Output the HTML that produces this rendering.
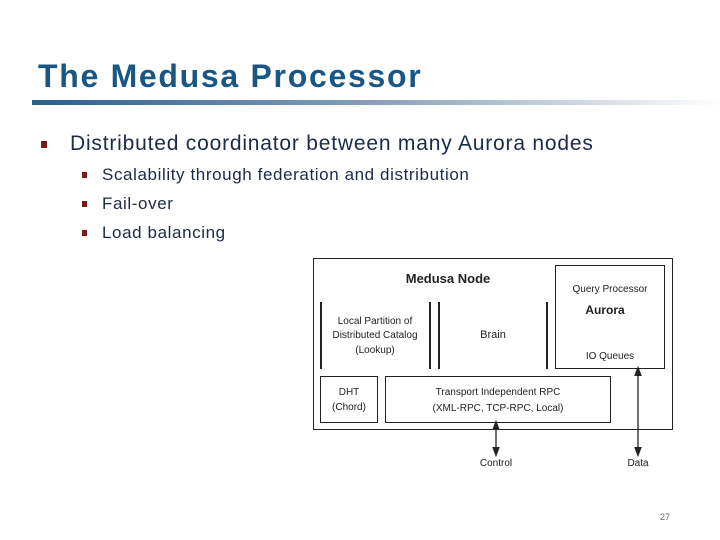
<!DOCTYPE html>
<html><head><style>
body{margin:0;width:720px;height:540px;background:#fff;position:relative;overflow:hidden;font-family:"Liberation Sans",sans-serif}
.t{position:absolute;white-space:nowrap}
.b{position:absolute;background:#7a1a1a}
.box{position:absolute;border:1.5px solid #222;box-sizing:border-box}
.vl{position:absolute;width:1.5px;background:#222}
.d{position:absolute;font-size:10px;color:#222;text-align:center;white-space:nowrap}
</style></head><body>
<div class="t" style="left:38px;top:58px;font-size:32px;font-weight:bold;color:#1a5684;letter-spacing:1.7px">The Medusa Processor</div>
<div style="position:absolute;left:32px;top:100px;width:690px;height:5px;background:linear-gradient(to right,#2a5f8e,#8aa0b8 50%,#fff)"></div>
<div class="b" style="left:41px;top:141px;width:6px;height:7px"></div>
<div class="t" style="left:70px;top:132px;font-size:21px;color:#1a2a4a;letter-spacing:0.8px">Distributed coordinator between many Aurora nodes</div>
<div class="b" style="left:82px;top:172px;width:5px;height:6px"></div>
<div class="t" style="left:102px;top:165px;font-size:17px;color:#1a2a4a;letter-spacing:0.6px">Scalability through federation and distribution</div>
<div class="b" style="left:82px;top:201px;width:5px;height:6px"></div>
<div class="t" style="left:102px;top:194px;font-size:17px;color:#1a2a4a;letter-spacing:0.6px">Fail-over</div>
<div class="b" style="left:82px;top:230px;width:5px;height:6px"></div>
<div class="t" style="left:102px;top:223px;font-size:17px;color:#1a2a4a;letter-spacing:0.6px">Load balancing</div>

<div class="box" style="left:313px;top:258px;width:360px;height:172px"></div>
<div class="box" style="left:555px;top:265px;width:110px;height:104px"></div>
<div class="vl" style="left:320px;top:302px;height:67px"></div>
<div class="vl" style="left:429px;top:302px;height:67px"></div>
<div class="vl" style="left:438px;top:302px;height:67px"></div>
<div class="vl" style="left:546px;top:302px;height:67px"></div>
<div class="box" style="left:320px;top:376px;width:58px;height:47px"></div>
<div class="box" style="left:385px;top:376px;width:226px;height:47px"></div>
<div class="d" style="left:313px;width:270px;top:271px;font-size:13px;font-weight:bold">Medusa Node</div>
<div class="d" style="left:555px;width:110px;top:284px">Query Processor</div>
<div class="d" style="left:555px;width:100px;top:303px;font-size:12px;font-weight:bold">Aurora</div>
<div class="d" style="left:555px;width:110px;top:351px">IO Queues</div>
<div class="d" style="left:322px;width:106px;top:315px;line-height:14px">Local Partition of<br>Distributed Catalog</div>
<div class="d" style="left:322px;width:106px;top:345px">(Lookup)</div>
<div class="d" style="left:440px;width:106px;top:329px;font-size:11px">Brain</div>
<div class="d" style="left:320px;width:58px;top:385px;line-height:15px">DHT<br>(Chord)</div>
<div class="d" style="left:385px;width:226px;top:385px;line-height:16px">Transport Independent RPC<br>(XML-RPC, TCP-RPC, Local)</div>
<svg style="position:absolute;left:0;top:0" width="720" height="540">
<defs><marker id="a" markerWidth="8" markerHeight="8" refX="4" refY="4" orient="auto-start-reverse"><path d="M0,1 L8,4 L0,7Z" fill="#222"/></marker></defs>
<line x1="496" y1="425" x2="496" y2="452" stroke="#222" stroke-width="1.3" marker-start="url(#a)" marker-end="url(#a)"/>
<line x1="638" y1="371" x2="638" y2="452" stroke="#222" stroke-width="1.3" marker-start="url(#a)" marker-end="url(#a)"/>
</svg>
<div class="d" style="left:466px;width:60px;top:458px">Control</div>
<div class="d" style="left:608px;width:60px;top:458px">Data</div>
<div class="t" style="left:660px;top:512px;font-size:9px;color:#666">27</div>
</body></html>
